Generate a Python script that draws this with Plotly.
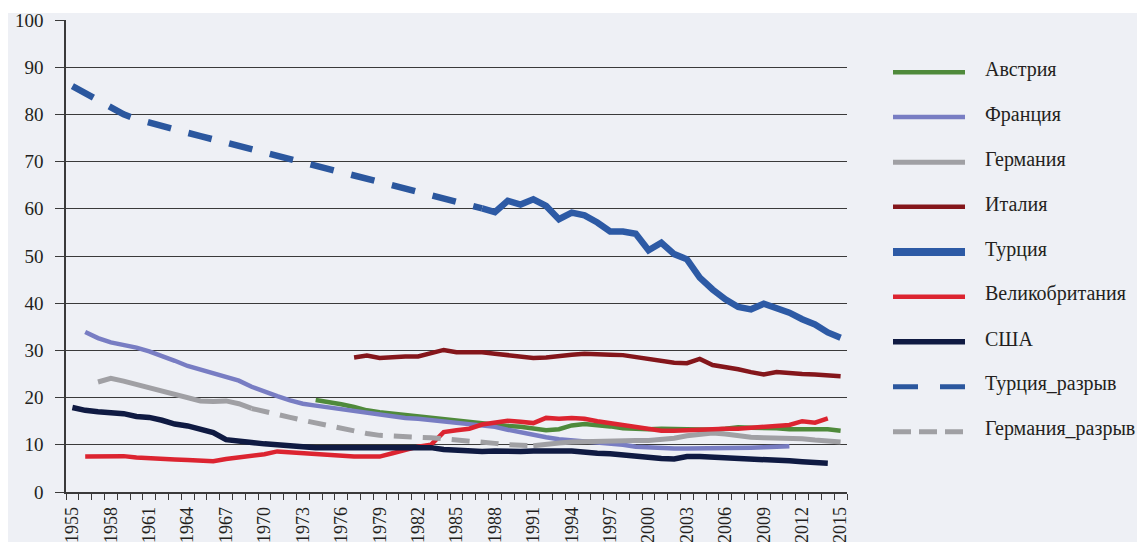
import plotly.graph_objects as go

# ---------------- data ----------------
austria_years = list(range(1974, 2016))
austria = [19.5, 19.1, 18.6, 18.0, 17.3, 16.9, 16.6, 16.3, 16.0, 15.7, 15.3, 15.0, 14.7, 14.5,
           14.3, 14.0, 13.8, 13.4, 13.1, 13.3, 14.1, 14.4, 14.2, 13.9, 13.5, 13.3, 13.3, 13.4,
           13.3, 13.2, 13.2, 13.2, 13.4, 13.7, 13.6, 13.6, 13.5, 13.3, 13.2, 13.3, 13.3, 13.0]

france_years = list(range(1956, 2012))
france = [33.9, 32.6, 31.7, 31.2, 30.6, 29.8, 28.9, 27.8, 26.7, 25.9, 25.2, 24.5, 23.6, 22.3,
          21.2, 20.3, 19.4, 18.7, 18.3, 17.9, 17.5, 17.1, 16.7, 16.3, 16.0, 15.7, 15.5, 15.2,
          14.9, 14.7, 14.4, 14.2, 13.8, 13.2, 12.6, 12.1, 11.6, 11.2, 11.0, 10.8, 10.5, 10.3,
          10.0, 9.6, 9.4, 9.2, 9.2, 9.2, 9.2, 9.2, 9.2, 9.3, 9.4, 9.5, 9.6, 9.7]

germany_years = list(range(1957, 1970)) + list(range(1991, 2016))
germany = [23.3, 24.1, 23.5, 22.8, 22.2, 21.4, 20.6, 20.0, 19.3, 19.2, 19.3, 18.7, 17.7] + \
          [9.8, 10.2, 10.4, 10.6, 10.7, 10.8, 10.9, 10.9, 10.9, 10.9, 11.1, 11.4, 11.9, 12.3,
           12.5, 12.3, 11.9, 11.6, 11.5, 11.5, 11.5, 11.3, 11.0, 10.7, 10.6]

italy_years = list(range(1977, 2016))
italy = [28.5, 28.9, 28.4, 28.6, 28.7, 28.7, 29.4, 30.1, 29.6, 29.6, 29.6, 29.3, 29.0, 28.6,
         28.4, 28.5, 28.9, 29.1, 29.3, 29.3, 29.1, 29.0, 28.6, 28.3, 28.0, 27.4, 27.3, 28.2,
         26.9, 26.5, 26.0, 25.4, 24.9, 25.4, 25.1, 25.0, 24.9, 24.8, 24.5]

turkey_years = list(range(1987, 2016))
turkey = [60.1, 59.3, 61.7, 60.9, 62.0, 60.6, 57.8, 59.2, 58.6, 57.1, 55.2, 55.2, 54.7, 51.2,
          52.8, 50.4, 49.3, 45.4, 42.9, 40.8, 39.2, 38.7, 39.9, 39.0, 38.0, 36.6, 35.5, 33.8, 32.7]

uk_years = list(range(1956, 2015))
uk = [7.5, 7.6, 7.7, 7.6, 7.3, 7.1, 7.0, 6.9, 6.8, 6.6, 6.5, 7.0, 7.3, 7.6, 8.0, 8.6, 8.4, 8.2,
      8.0, 7.9, 7.7, 7.5, 7.5, 7.5, 8.2, 8.9, 9.6, 10.0, 12.7, 13.1, 13.4, 14.3, 14.8, 15.1,
      14.9, 14.6, 15.7, 15.5, 15.7, 15.5, 15.0, 14.6, 14.2, 13.6, 13.3, 13.0, 13.0, 13.1, 13.4,
      13.3, 13.4, 13.4, 13.6, 13.7, 13.9, 14.2, 15.0, 14.7, 15.6]

usa_years = list(range(1955, 2015))
usa = [17.9, 17.3, 17.0, 16.9, 16.6, 16.0, 15.8, 15.2, 14.4, 14.0, 13.3, 12.6, 11.1, 10.7,
       10.5, 10.2, 10.0, 9.7, 9.5, 9.4, 9.4, 9.4, 9.4, 9.4, 9.4, 9.5, 9.5, 9.5, 9.4, 9.0, 8.8,
       8.7, 8.6, 8.7, 8.6, 8.6, 8.7, 8.8, 8.7, 8.7, 8.4, 8.2, 8.1, 7.8, 7.5, 7.3, 7.1, 7.0, 7.5,
       7.5, 7.4, 7.3, 7.1, 6.9, 6.9, 6.8, 6.6, 6.4, 6.3, 6.1]

turkey_gap_years = list(range(1955, 1988))
turkey_gap = [86.0, 84.4, 82.9, 81.4, 80.0, 79.0, 78.2, 77.5, 76.8, 76.1, 75.4, 74.7, 74.0,
              73.3, 72.6, 71.9, 71.2, 70.5, 69.8, 69.1, 68.4, 67.7, 67.0, 66.3, 65.6, 64.9,
              64.2, 63.5, 62.8, 62.1, 61.4, 60.7, 60.1]

germany_gap_years = list(range(1969, 1992))
germany_gap = [17.7, 17.0, 16.3, 15.8, 15.2, 14.6, 14.2, 13.6, 13.0, 12.4, 12.0, 11.8, 11.7,
               11.6, 11.5, 11.3, 11.1, 10.8, 10.6, 10.3, 10.0, 9.8, 9.8]

names = ["Австрия", "Франция", "Германия", "Италия", "Турция", "Великобритания", "США",
         "Турция_разрыв", "Германия_разрыв"]

# ---------------- styles ----------------
colors = ["#4F8A3B", "#787DC3", "#A0A0A4", "#84161B", "#2D5AA5", "#DC2430", "#0F1A42",
          "#2B579E", "#A0A0A4"]
widths = [4.5, 4.5, 5, 4.5, 6.5, 4.5, 5.5, 6.5, 5]
dashes = ["solid"] * 7 + ["24px,18px", "18px,11px"]
leg_widths = [4.5, 4.5, 5, 4.5, 8, 4.5, 5.5, 5, 5]
leg_dashes = ["solid"] * 7 + ["25px,22px", "18px,8px"]

series = [(austria_years, austria), (france_years, france), (germany_years, germany),
          (italy_years, italy), (turkey_years, turkey), (uk_years, uk), (usa_years, usa),
          (turkey_gap_years, turkey_gap), (germany_gap_years, germany_gap)]

OFF = 8                      # default page body margin
W, H = 1145 - OFF, 542 - OFF
ML, MT = 66 - OFF, 20 - OFF
MR = W - (847 - OFF)
MB = H - (492 - OFF)
PW, PH = W - ML - MR, H - MT - MB
BG = "#EEF0F5"
TXT = "#231F20"
SERIF = "Liberation Serif"


def px_x(px):   # page pixel -> paper x
    return (px - OFF - ML) / PW


def px_y(py):   # page pixel -> paper y
    return (H - MB - (py - OFF)) / PH


fig = go.Figure()
for (xs, ys), name, c, w, d in zip(series, names, colors, widths, dashes):
    if name == "Германия":
        seg1 = [(x, y) for x, y in zip(xs, ys) if x < 1980]
        seg2 = [(x, y) for x, y in zip(xs, ys) if x > 1980]
        xx = [p[0] for p in seg1] + [None] + [p[0] for p in seg2]
        yy = [p[1] for p in seg1] + [None] + [p[1] for p in seg2]
    else:
        xx, yy = xs, ys
    fig.add_trace(go.Scatter(x=xx, y=yy, mode="lines", name=name, showlegend=False,
                             line=dict(color=c, width=w, dash=d), connectgaps=False))

shapes = [dict(type="rect", xref="paper", yref="paper", x0=px_x(0), x1=px_x(1150),
               y0=px_y(560), y1=px_y(13), fillcolor=BG, line=dict(width=0), layer="below")]
annotations = []
leg_y = [72.3, 117.0, 162.3, 206.7, 252.0, 296.7, 341.7, 386.7, 431.7]
for i, name in enumerate(names):
    shapes.append(dict(type="line", xref="paper", yref="paper", x0=px_x(893), x1=px_x(965),
                       y0=px_y(leg_y[i]), y1=px_y(leg_y[i]),
                       line=dict(color=colors[i], width=leg_widths[i], dash=leg_dashes[i])))
    annotations.append(dict(text=name, xref="paper", yref="paper", x=px_x(983),
                            y=px_y(leg_y[i] - 3), xanchor="left", yanchor="middle",
                            showarrow=False, font=dict(family=SERIF, size=20, color=TXT)))

fig.update_layout(
    width=W, height=H,
    margin=dict(l=ML, r=MR, t=MT, b=MB, pad=0, autoexpand=False),
    paper_bgcolor="white",
    plot_bgcolor="rgba(0,0,0,0)",
    showlegend=False,
    shapes=shapes,
    annotations=annotations,
    xaxis=dict(range=[1954.5, 2015.5], tickmode="linear", tick0=1955, dtick=3,
               ticks="", tickangle=-90, showgrid=False, zeroline=False, automargin=False,
               showline=True, linecolor="#3A3A3A", linewidth=1.5,
               tickfont=dict(family=SERIF, size=18, color=TXT), ticklabelstandoff=6,
               minor=dict(tickmode="linear", tick0=1954.5, dtick=1, ticks="outside",
                          ticklen=6, tickcolor="#3A3A3A", tickwidth=1, showgrid=False)),
    yaxis=dict(range=[0, 100], tickmode="linear", tick0=0, dtick=10, automargin=False,
               showgrid=True, gridcolor="#3A3A3A", gridwidth=1, zeroline=False,
               showline=True, linecolor="#3A3A3A", linewidth=1.5,
               ticks="outside", ticklen=9, tickcolor="#3A3A3A", tickwidth=1,
               tickfont=dict(family=SERIF, size=19, color=TXT), ticklabelstandoff=8),
)

fig.write_html("out.html")
